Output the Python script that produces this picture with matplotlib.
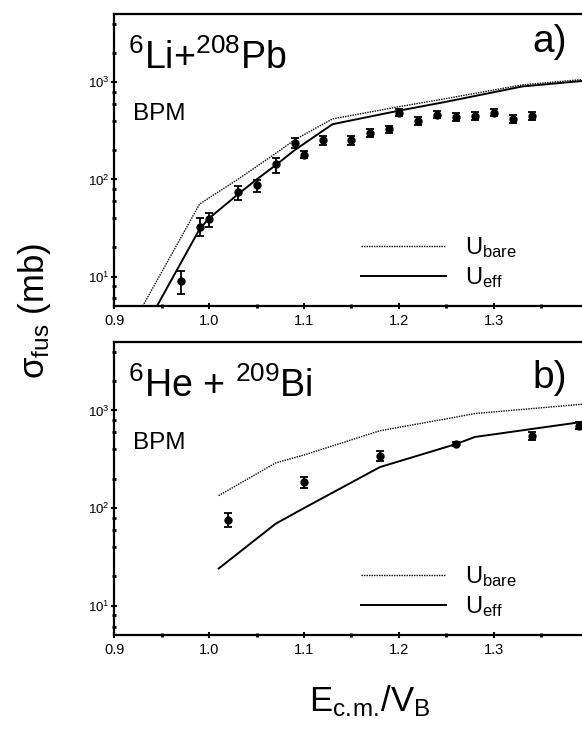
import numpy as np
import matplotlib
matplotlib.use('Agg')
import matplotlib.pyplot as plt
from matplotlib.ticker import FixedLocator, LogLocator, NullFormatter

plt.rcParams['font.family'] = ['Liberation Sans', 'DejaVu Sans']
plt.rcParams['mathtext.fontset'] = 'custom'
plt.rcParams['mathtext.rm'] = 'Liberation Sans'
plt.rcParams['mathtext.it'] = 'Liberation Sans:italic'
plt.rcParams['mathtext.bf'] = 'Liberation Sans:bold'

# panel a) 6Li + 208Pb
li_x = [0.97, 0.99, 1.00, 1.03, 1.05, 1.07, 1.09, 1.10, 1.12, 1.15,
        1.17, 1.19, 1.20, 1.22, 1.24, 1.26, 1.28, 1.30, 1.32, 1.34]
li_y = [9.0, 32.8, 39.4, 73.6, 87.5, 143, 237, 180, 252, 252,
        302, 327, 486, 400, 463, 439, 450, 486, 416, 450]
li_lo = [6.7, 26.5, 32.8, 61, 74.8, 117, 211, 168, 228, 228,
         275, 300, 445, 365, 425, 400, 410, 445, 380, 410]
li_hi = [11.4, 40, 44.9, 86, 98.4, 168, 266, 195, 277, 277,
         330, 355, 530, 440, 505, 480, 495, 530, 455, 495]

li_bare_x = [0.93, 0.99, 1.03, 1.07, 1.09, 1.13, 1.20, 1.25, 1.33, 1.40]
li_bare_y = [5.0, 56, 100, 185, 255, 420, 560, 680, 940, 1080]
li_eff_x = [0.945, 0.99, 1.00, 1.03, 1.05, 1.07, 1.09, 1.13, 1.20, 1.25, 1.33, 1.40]
li_eff_y = [5.0, 31, 40, 70, 100, 140, 200, 370, 510, 630, 905, 1045]

# panel b) 6He + 209Bi
he_x = [1.02, 1.10, 1.18, 1.26, 1.34, 1.39]
he_y = [76, 183, 343, 452, 550, 697]
he_lo = [63.5, 160, 306, 435, 500, 640]
he_hi = [89, 208, 380, 470, 608, 760]

he_bare_x = [1.01, 1.07, 1.10, 1.18, 1.26, 1.28, 1.40]
he_bare_y = [134, 290, 350, 620, 855, 930, 1175]
he_eff_x = [1.01, 1.07, 1.10, 1.18, 1.26, 1.28, 1.40]
he_eff_y = [24, 69, 100, 263, 452, 535, 780]

panels = [
    ('a)', 0.87, r'$^{6}$Li+$^{208}$Pb', li_x, li_y, li_lo, li_hi, li_bare_x, li_bare_y, li_eff_x, li_eff_y),
    ('b)', 0.843, r'$^{6}$He + $^{209}$Bi', he_x, he_y, he_lo, he_hi, he_bare_x, he_bare_y, he_eff_x, he_eff_y),
]

fig = plt.figure(figsize=(5.82, 7.32), dpi=100)
boxes = [[0.1964, 0.5820, 0.8036, 0.3985], [0.1964, 0.1325, 0.8036, 0.3999]]

for box, (tag, tag_y, title, x, y, lo, hi, bx, by, ex, ey) in zip(boxes, panels):
    ax = fig.add_axes(box)
    ax.set_yscale('log')
    ax.set_xlim(0.9, 1.393)
    ax.set_ylim(5, 5000)

    l1, = ax.plot(bx, by, color='k', lw=1.0, ls=(0, (1, 0.8)), label=r'U$_{\rm bare}$')
    l2, = ax.plot(ex, ey, color='k', lw=1.4, label=r'U$_{\rm eff}$')
    y = np.array(y)
    yerr = [y - np.array(lo), np.array(hi) - y]
    ax.errorbar(x, y, yerr=yerr, fmt='o', color='k', ms=5, elinewidth=1.3,
                capsize=3, capthick=1.3, zorder=5)

    for s in ['left', 'bottom', 'top']:
        ax.spines[s].set_linewidth(1.6)
    ax.spines['right'].set_visible(False)

    ax.xaxis.set_major_locator(FixedLocator([0.9, 1.0, 1.1, 1.2, 1.3]))
    ax.xaxis.set_minor_locator(FixedLocator([0.95, 1.05, 1.15, 1.25, 1.35]))
    ax.set_xticklabels(['0.9', '1.0', '1.1', '1.2', '1.3'])
    ax.yaxis.set_major_locator(FixedLocator([10, 100, 1000]))
    ax.set_yticklabels([r'$10^{1}$', r'$10^{2}$', r'$10^{3}$'])
    ax.yaxis.set_minor_locator(LogLocator(base=10, subs=(2, 4, 6, 8)))
    ax.yaxis.set_minor_formatter(NullFormatter())
    ax.tick_params(which='major', direction='inout', length=5, width=1.5,
                   labelsize=10.5, pad=3, top=False, right=False)
    ax.tick_params(which='minor', direction='inout', length=2.5, width=2,
                   top=False, right=False)
    ax.tick_params(axis='y', which='major', labelsize=9.5, pad=1)

    ax.text(0.03, 0.812, title, transform=ax.transAxes, fontsize=27,
            ha='left', va='baseline')
    ax.text(0.968, tag_y, tag, transform=ax.transAxes, fontsize=28,
            ha='right', va='baseline')
    ax.text(0.04, 0.657, 'BPM', transform=ax.transAxes, fontsize=17.5,
            ha='left', va='center')

    ax.legend(handles=[l1, l2], loc='lower left', bbox_to_anchor=(0.528, 0.055),
              frameon=False, fontsize=17, handlelength=3.6, handletextpad=0.8,
              labelspacing=0.22, borderpad=0, borderaxespad=0)

fig.text(0.06, 0.575, r'σ$_{\rm fus}$ (mb)', rotation=90, fontsize=25,
         ha='center', va='center')
fig.text(0.635, 0.042, r'$\rm E_{c.\!m.\!}/V_B$', fontsize=25,
         ha='center', va='center')

fig.savefig('out.png', dpi=100)
